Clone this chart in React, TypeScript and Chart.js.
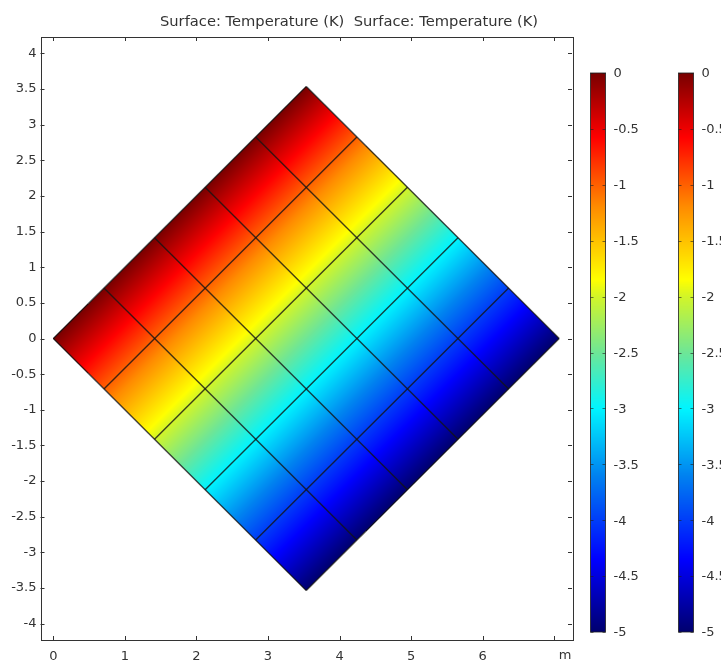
import React, { useEffect, useRef } from "react";
import { Chart, registerables } from "chart.js";
Chart.register(...registerables);

const TITLE = "Surface: Temperature (K)  Surface: Temperature (K)";
// square domain corners: left, top, right, bottom
const CORNER_X = [0, 3.5355, 7.0711, 3.5355];
const CORNER_Y = [0, 3.5355, 0, -3.5355];
// nodal temperatures (K); rows from the upper-left edge to the lower-right edge
const NODE_T = [
  [0, 0, 0, 0, 0, 0],
  [-1, -1, -1, -1, -1, -1],
  [-2, -2, -2, -2, -2, -2],
  [-3, -3, -3, -3, -3, -3],
  [-4, -4, -4, -4, -4, -4],
  [-5, -5, -5, -5, -5, -5],
];
const X_MIN = -0.18;
const X_MAX = 7.25;
const Y_MIN = -4.23;
const Y_MAX = 4.23;
const X_UNIT_TICK = 7;
const X_UNIT_LABEL = "m";
const CB_MIN = -5;
const CB_MAX = 0;
const CB_TICKS = [0, -0.5, -1, -1.5, -2, -2.5, -3, -3.5, -4, -4.5, -5];
const CMAP_POS = [0, 0.13, 0.28, 0.4, 0.5, 0.6, 0.63, 0.76, 0.885, 1];
const CMAP_RGB = [
  [0, 0, 110],
  [0, 0, 255],
  [0, 130, 240],
  [0, 245, 255],
  [110, 230, 150],
  [210, 245, 40],
  [255, 255, 0],
  [255, 140, 0],
  [255, 0, 0],
  [120, 0, 0],
];

function cmap(t: number): number[] {
  let f = (t - CB_MIN) / (CB_MAX - CB_MIN);
  f = Math.max(0, Math.min(1, f));
  for (let i = 1; i < CMAP_POS.length; i++) {
    if (f <= CMAP_POS[i]) {
      const a = CMAP_POS[i - 1], b = CMAP_POS[i];
      const r = (f - a) / (b - a);
      const c0 = CMAP_RGB[i - 1], c1 = CMAP_RGB[i];
      return [c0[0] + (c1[0] - c0[0]) * r, c0[1] + (c1[1] - c0[1]) * r, c0[2] + (c1[2] - c0[2]) * r];
    }
  }
  return CMAP_RGB[CMAP_RGB.length - 1];
}

const FONT = "DejaVu Sans";
const TEXT = "#333";

export default function App() {
  const ref = useRef<HTMLCanvasElement | null>(null);
  useEffect(() => {
    const canvas = ref.current!;
    const n = NODE_T.length - 1;
    const Ax = CORNER_X[1] - CORNER_X[0], Ay = CORNER_Y[1] - CORNER_Y[0];
    const Bx = CORNER_X[3] - CORNER_X[0], By = CORNER_Y[3] - CORNER_Y[0];
    const datasets: any[] = [];
    for (let k = 0; k <= n; k++) {
      const f = k / n;
      datasets.push({
        data: [
          { x: CORNER_X[0] + f * Bx, y: CORNER_Y[0] + f * By },
          { x: CORNER_X[0] + Ax + f * Bx, y: CORNER_Y[0] + Ay + f * By },
        ],
      });
      datasets.push({
        data: [
          { x: CORNER_X[0] + f * Ax, y: CORNER_Y[0] + f * Ay },
          { x: CORNER_X[0] + Bx + f * Ax, y: CORNER_Y[0] + By + f * Ay },
        ],
      });
    }
    datasets.forEach((d) => {
      d.showLine = true;
      d.pointRadius = 0;
      d.borderColor = "rgba(20,20,20,0.8)";
      d.borderWidth = 1.4;
      d.fill = false;
    });

    const surfacePlugin = {
      id: "surface",
      beforeDatasetsDraw(chart: any) {
        const { ctx, chartArea } = chart;
        const xs = chart.scales.x, ys = chart.scales.y;
        const left = Math.floor(chartArea.left), top = Math.floor(chartArea.top);
        const w = Math.ceil(chartArea.right) - left, h = Math.ceil(chartArea.bottom) - top;
        const off = document.createElement("canvas");
        off.width = w; off.height = h;
        const octx = off.getContext("2d")!;
        const img = octx.createImageData(w, h);
        const det = Ax * By - Ay * Bx;
        for (let py = 0; py < h; py++) {
          const y = ys.getValueForPixel(top + py + 0.5);
          for (let px = 0; px < w; px++) {
            const x = xs.getValueForPixel(left + px + 0.5);
            const dx = x - CORNER_X[0], dy = y - CORNER_Y[0];
            const s = (dx * By - dy * Bx) / det;
            const t = (Ax * dy - Ay * dx) / det;
            if (s < 0 || s > 1 || t < 0 || t > 1) continue;
            const si = Math.min(n - 1, Math.floor(s * n)), ti = Math.min(n - 1, Math.floor(t * n));
            const fs = s * n - si, ft = t * n - ti;
            const v =
              NODE_T[ti][si] * (1 - fs) * (1 - ft) +
              NODE_T[ti][si + 1] * fs * (1 - ft) +
              NODE_T[ti + 1][si] * (1 - fs) * ft +
              NODE_T[ti + 1][si + 1] * fs * ft;
            const c = cmap(v);
            const o = (py * w + px) * 4;
            img.data[o] = c[0]; img.data[o + 1] = c[1]; img.data[o + 2] = c[2]; img.data[o + 3] = 255;
          }
        }
        octx.putImageData(img, 0, 0);
        ctx.save();
        ctx.drawImage(off, left, top);
        ctx.restore();
      },
      afterDraw(chart: any) {
        const { ctx, chartArea } = chart;
        const xs = chart.scales.x, ys = chart.scales.y;
        const { left, right, top, bottom } = chartArea;
        ctx.save();
        ctx.strokeStyle = "#333";
        ctx.lineWidth = 1;
        ctx.strokeRect(Math.round(left) + 0.5, Math.round(top) + 0.5, Math.round(right - left), Math.round(bottom - top));
        ctx.beginPath();
        const tl = 4;
        xs.ticks.forEach((tk: any) => {
          const p = Math.round(xs.getPixelForValue(tk.value)) + 0.5;
          ctx.moveTo(p, bottom); ctx.lineTo(p, bottom - tl);
          ctx.moveTo(p, top); ctx.lineTo(p, top + tl);
        });
        ys.ticks.forEach((tk: any) => {
          const p = Math.round(ys.getPixelForValue(tk.value)) + 0.5;
          ctx.moveTo(left, p); ctx.lineTo(left + tl, p);
          ctx.moveTo(right, p); ctx.lineTo(right - tl, p);
        });
        ctx.stroke();

        // unit label in place of the last x tick label
        ctx.fillStyle = TEXT;
        ctx.font = `13px "${FONT}"`;
        ctx.textAlign = "center";
        ctx.textBaseline = "top";
        ctx.fillText(X_UNIT_LABEL, xs.getPixelForValue(X_UNIT_TICK) + 11, bottom + 9);

        // title
        ctx.font = `14.7px "${FONT}"`;
        ctx.textAlign = "center";
        ctx.textBaseline = "middle";
        ctx.fillText(TITLE, 349, 22);

        // colour bars
        ctx.font = `13px "${FONT}"`;
        const bars = [590.5, 678.5];
        const bw = 15, btop = 73, bbot = 632;
        bars.forEach((bx) => {
          for (let py = btop; py < bbot; py++) {
            const v = CB_MAX - ((py + 0.5 - btop) / (bbot - btop)) * (CB_MAX - CB_MIN);
            const c = cmap(v);
            ctx.fillStyle = `rgb(${c[0]},${c[1]},${c[2]})`;
            ctx.fillRect(bx, py, bw, 1);
          }
          ctx.strokeStyle = "rgba(30,30,30,0.8)";
          ctx.strokeRect(bx, btop, bw, bbot - btop);
          ctx.fillStyle = TEXT;
          ctx.textAlign = "left";
          ctx.textBaseline = "middle";
          ctx.beginPath();
          CB_TICKS.forEach((tv) => {
            const py = btop + ((CB_MAX - tv) / (CB_MAX - CB_MIN)) * (bbot - btop);
            ctx.moveTo(bx, Math.round(py) + 0.5); ctx.lineTo(bx + 3, Math.round(py) + 0.5);
            ctx.moveTo(bx + bw, Math.round(py) + 0.5); ctx.lineTo(bx + bw - 3, Math.round(py) + 0.5);
            ctx.fillText(String(tv), bx + bw + 8, py + 1);
          });
          ctx.strokeStyle = "rgba(30,30,30,0.6)";
          ctx.stroke();
        });
        ctx.restore();
      },
    };

    const chart = new Chart(canvas, {
      type: "scatter",
      data: { datasets },
      options: {
        animation: false,
        responsive: true,
        maintainAspectRatio: false,
        layout: { padding: { top: 37, right: 149, left: 0, bottom: 0 } },
        plugins: { legend: { display: false }, tooltip: { enabled: false } },
        scales: {
          x: {
            type: "linear",
            min: X_MIN,
            max: X_MAX,
            grid: { display: false, drawTicks: false },
            border: { display: false },
            ticks: {
              stepSize: 1,
              includeBounds: false,
              autoSkip: false,
              maxRotation: 0,
              padding: 9,
              color: TEXT,
              font: { family: FONT, size: 13 },
              callback: (v: any) => (Math.abs(v - X_UNIT_TICK) < 1e-9 ? "" : String(v)),
            },
            afterFit: (s: any) => { s.height = 21; },
          },
          y: {
            type: "linear",
            min: Y_MIN,
            max: Y_MAX,
            grid: { display: false, drawTicks: false },
            border: { display: false },
            ticks: {
              stepSize: 0.5,
              includeBounds: false,
              autoSkip: false,
              padding: 4,
              color: TEXT,
              font: { family: FONT, size: 13 },
              callback: (v: any) => String(Math.round(v * 10) / 10),
            },
            afterFit: (s: any) => { s.width = 40.5; },
          },
        },
      },
      plugins: [surfacePlugin],
    } as any);
    return () => chart.destroy();
  }, []);
  return (
    <div style={{ position: "fixed", left: 0, top: 0, width: 721, height: 661, background: "#fff" }}>
      <canvas ref={ref} />
    </div>
  );
}
